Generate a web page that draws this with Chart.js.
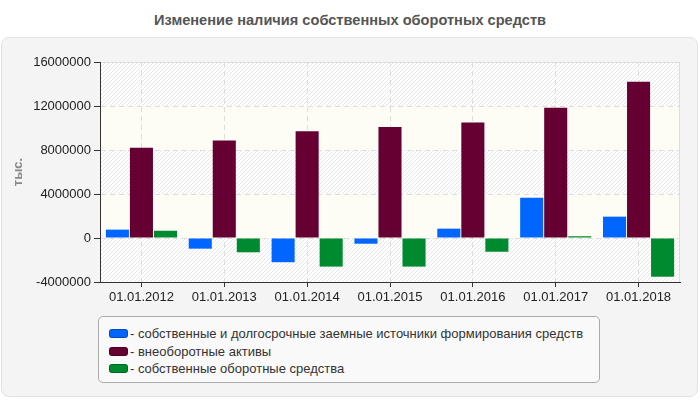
<!DOCTYPE html>
<html>
<head>
<meta charset="utf-8">
<script src="https://cdn.jsdelivr.net/npm/chart.js@4"></script>
<style>
  html, body { margin: 0; padding: 0; background: #fff; }
  body { width: 700px; height: 400px; position: relative; overflow: hidden; font-family: "Liberation Sans", Arial, sans-serif; }
  #title { position: absolute; left: 0; top: 12px; width: 700px; text-align: center; font-weight: bold; font-size: 14.6px; color: #555; }
  #panel { position: absolute; left: 1px; top: 37px; width: 695px; height: 358px; background: #f4f4f4; border: 1px solid #e2e2e2; border-radius: 8px; }
  #chart { position: absolute; left: 0; top: 0; }
  #legend { position: absolute; left: 98px; top: 316px; width: 502px; height: 67px; border: 1px solid #aaa; border-radius: 5px; background: #f9f9f9; box-sizing: border-box; padding-top: 8px; }
  .item { height: 17.5px; line-height: 17.5px; font-size: 13px; color: #333; white-space: nowrap; }
  .sw { display: inline-block; width: 17px; height: 7px; border-radius: 3px; margin-left: 10px; margin-right: 2px; vertical-align: 0px; }
</style>
</head>
<body>
<div id="title">Изменение наличия собственных оборотных средств</div>
<div id="panel"></div>
<canvas id="chart" width="700" height="400"></canvas>
<div id="legend"></div>
<script>
// Даты
const dates = ['01.01.2012', '01.01.2013', '01.01.2014', '01.01.2015', '01.01.2016', '01.01.2017', '01.01.2018'];

// Ряды, тыс.
const sourcesValues = [760000, -970000, -2200000, -520000, 850000, 3660000, 1940000];
const fixedAssetsValues = [8200000, 8870000, 9700000, 10100000, 10500000, 11850000, 14200000];
const workingCapitalValues = [660000, -1300000, -2600000, -2600000, -1250000, 160000, -3520000];

const seriesNames = [
    '- собственные и долгосрочные заемные источники формирования средств',
    '- внеоборотные активы',
    '- собственные оборотные средства'
];
const seriesColors = ['#0066ff', '#660033', '#008a30'];

const yMin = -4000000, yMax = 16000000, yStep = 4000000;

// штриховка фона
function makeHatch() {
    const c = document.createElement('canvas');
    c.width = 4; c.height = 4;
    const g = c.getContext('2d');
    g.fillStyle = '#ffffff';
    g.fillRect(0, 0, 4, 4);
    g.strokeStyle = '#e6e6e6';
    g.lineWidth = 1;
    g.beginPath();
    g.moveTo(0, 4); g.lineTo(4, 0);
    g.moveTo(-1, 1); g.lineTo(1, -1);
    g.moveTo(3, 5); g.lineTo(5, 3);
    g.stroke();
    return c;
}

const bandsPlugin = {
    id: 'bands',
    beforeDraw(chart) {
        const ctx = chart.ctx, area = chart.chartArea, y = chart.scales.y;
        const hatch = ctx.createPattern(makeHatch(), 'repeat');
        ctx.save();
        const ticks = y.ticks.map(t => t.value).sort((a, b) => b - a);
        for (let i = 0; i < ticks.length - 1; i++) {
            const top = y.getPixelForValue(ticks[i]);
            const bot = y.getPixelForValue(ticks[i + 1]);
            ctx.fillStyle = (i % 2 === 0) ? hatch : '#fdfdf5';
            ctx.fillRect(area.left, top, area.right - area.left, bot - top);
        }
        ctx.strokeStyle = '#dddddd';
        ctx.lineWidth = 1;
        ctx.beginPath();
        ctx.moveTo(area.left, area.top + 0.5);
        ctx.lineTo(area.right - 0.5, area.top + 0.5);
        ctx.lineTo(area.right - 0.5, area.bottom);
        ctx.stroke();
        ctx.restore();
    }
};

const ctx = document.getElementById('chart').getContext('2d');
const chart = new Chart(ctx, {
    type: 'bar',
    data: {
        labels: dates,
        datasets: [sourcesValues, fixedAssetsValues, workingCapitalValues].map((vals, i) => ({
            label: seriesNames[i],
            data: vals,
            backgroundColor: seriesColors[i],
            borderWidth: 0,
            categoryPercentage: 0.87,
            barPercentage: 0.96
        }))
    },
    options: {
        responsive: false,
        animation: false,
        layout: { padding: { left: 0, top: 62, right: 20, bottom: 0 } },
        plugins: {
            legend: { display: false },
            tooltip: { enabled: false }
        },
        scales: {
            x: {
                grid: {
                    offset: false,
                    color: '#dddddd',
                    tickColor: '#333333',
                    tickLength: 5
                },
                border: { color: '#333333', width: 1, dash: [5, 4] },
                ticks: { color: '#222', font: { family: 'Liberation Sans', size: 13 }, padding: 3, maxRotation: 0 },
                afterFit(scale) { scale.height = 118; }
            },
            y: {
                min: yMin,
                max: yMax,
                grid: {
                    color: '#dddddd',
                    tickColor: '#333333',
                    tickLength: 6
                },
                border: { color: '#333333', width: 1, dash: [5, 4] },
                ticks: {
                    stepSize: yStep,
                    color: '#222',
                    font: { family: 'Liberation Sans', size: 13 },
                    padding: 3,
                    callback: v => String(v)
                },
                title: {
                    display: true,
                    text: 'тыс.',
                    color: '#888',
                    font: { family: 'Liberation Sans', size: 13, weight: 'bold' },
                    padding: { top: 11, bottom: 0 }
                },
                afterFit(scale) { scale.width = 100; }
            }
        }
    },
    plugins: [bandsPlugin]
});

// легенда
const legend = document.getElementById('legend');
chart.data.datasets.forEach(ds => {
    const row = document.createElement('div');
    row.className = 'item';
    const sw = document.createElement('span');
    sw.className = 'sw';
    sw.style.background = ds.backgroundColor;
    sw.style.border = '1px solid rgba(0,0,0,0.25)';
    row.appendChild(sw);
    row.appendChild(document.createTextNode(ds.label));
    legend.appendChild(row);
});
</script>
</body>
</html>
